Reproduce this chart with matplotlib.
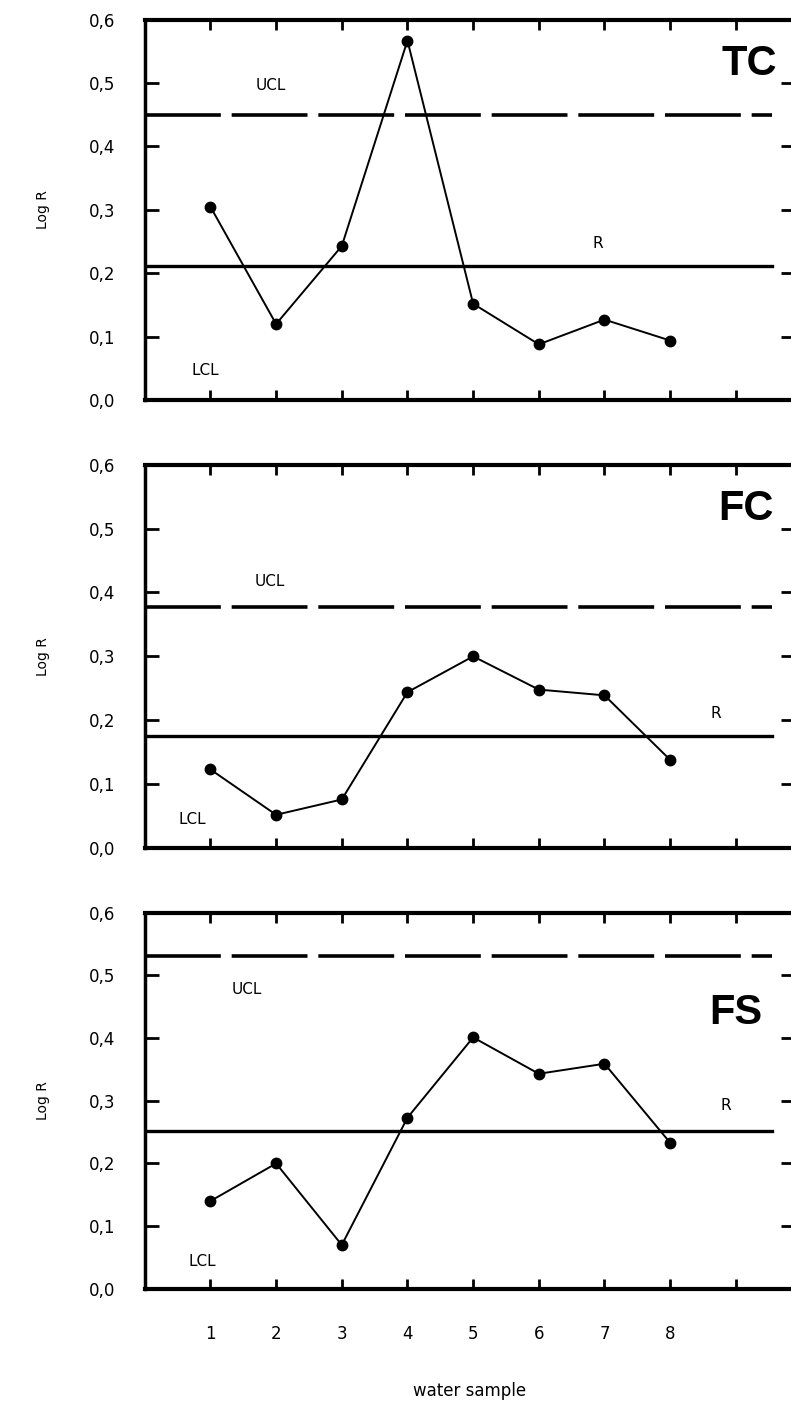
import numpy as np
from matplotlib import pyplot as plt

# water samples 1..8
samples = [1, 2, 3, 4, 5, 6, 7, 8]

tc_values = [0.305, 0.120, 0.243, 0.567, 0.152, 0.088, 0.127, 0.094]
fc_values = [0.123, 0.052, 0.076, 0.244, 0.300, 0.248, 0.239, 0.138]
fs_values = [0.140, 0.200, 0.070, 0.273, 0.401, 0.343, 0.359, 0.233]

panel_names = ['TC', 'FC', 'FS']
ucl_values = [0.450, 0.377, 0.530]
r_values = [0.211, 0.176, 0.252]

y_ticks = [0.0, 0.1, 0.2, 0.3, 0.4, 0.5, 0.6]
y_tick_labels = ['0,0', '0,1', '0,2', '0,3', '0,4', '0,5', '0,6']
x_tick_labels = ['1', '2', '3', '4', '5', '6', '7', '8', '']

# label positions (data coords) for each panel: UCL, LCL, R, title
ucl_text_pos = [(1.92, 0.496), (1.90, 0.417), (1.55, 0.478)]
lcl_text_pos = [(0.92, 0.047), (0.72, 0.044), (0.88, 0.044)]
r_text_pos = [(6.9, 0.247), (8.7, 0.21), (8.85, 0.292)]
title_pos = [(9.2, 0.53), (9.15, 0.53), (9.0, 0.44)]

all_values = [tc_values, fc_values, fs_values]

fig = plt.figure(figsize=(7.91, 14.04), dpi=100)
left = 0.183
width = 1.005 - left
bottoms = [0.715, 0.396, 0.082]
heights = [0.271, 0.273, 0.268]

for i in range(3):
    ax = fig.add_axes([left, bottoms[i], width, heights[i]])
    ax.set_xlim(0, 9.9)
    ax.set_ylim(0, 0.6)

    # control lines
    ax.plot([0, 9.55], [ucl_values[i], ucl_values[i]], color='black', lw=2.6,
            dashes=[21, 3], solid_capstyle='butt')
    ax.plot([0, 9.55], [r_values[i], r_values[i]], color='black', lw=2.4)

    # data series
    ax.plot(samples, all_values[i], color='black', lw=1.4, marker='o',
            markersize=7.5, markerfacecolor='black')

    ax.text(*ucl_text_pos[i], 'UCL', fontsize=11, ha='center', va='center')
    ax.text(*lcl_text_pos[i], 'LCL', fontsize=11, ha='center', va='center')
    ax.text(*r_text_pos[i], 'R', fontsize=11, ha='center', va='center')
    ax.text(*title_pos[i], panel_names[i], fontsize=30, fontweight='bold',
            family='Liberation Sans', ha='center', va='center')

    ax.set_yticks(y_ticks)
    ax.set_yticklabels(y_tick_labels, fontsize=12)
    ax.set_xticks(np.arange(1, 10))
    if i == 2:
        ax.set_xticklabels(x_tick_labels, fontsize=12)
        ax.set_xlabel('water sample', fontsize=12, labelpad=28)
    else:
        ax.set_xticklabels([])
    ax.tick_params(axis='both', direction='in', top=True, right=True,
                   width=2, color='black')
    ax.tick_params(axis='y', length=10, pad=21)
    ax.tick_params(axis='x', length=7, pad=26)
    ax.set_ylabel('Log R', fontsize=10, labelpad=28)

    ax.spines['top'].set_linewidth(3)
    ax.spines['bottom'].set_linewidth(3)
    ax.spines['left'].set_linewidth(2.5)
    ax.spines['right'].set_linewidth(2.5)

fig.savefig('out.png', dpi=100)
